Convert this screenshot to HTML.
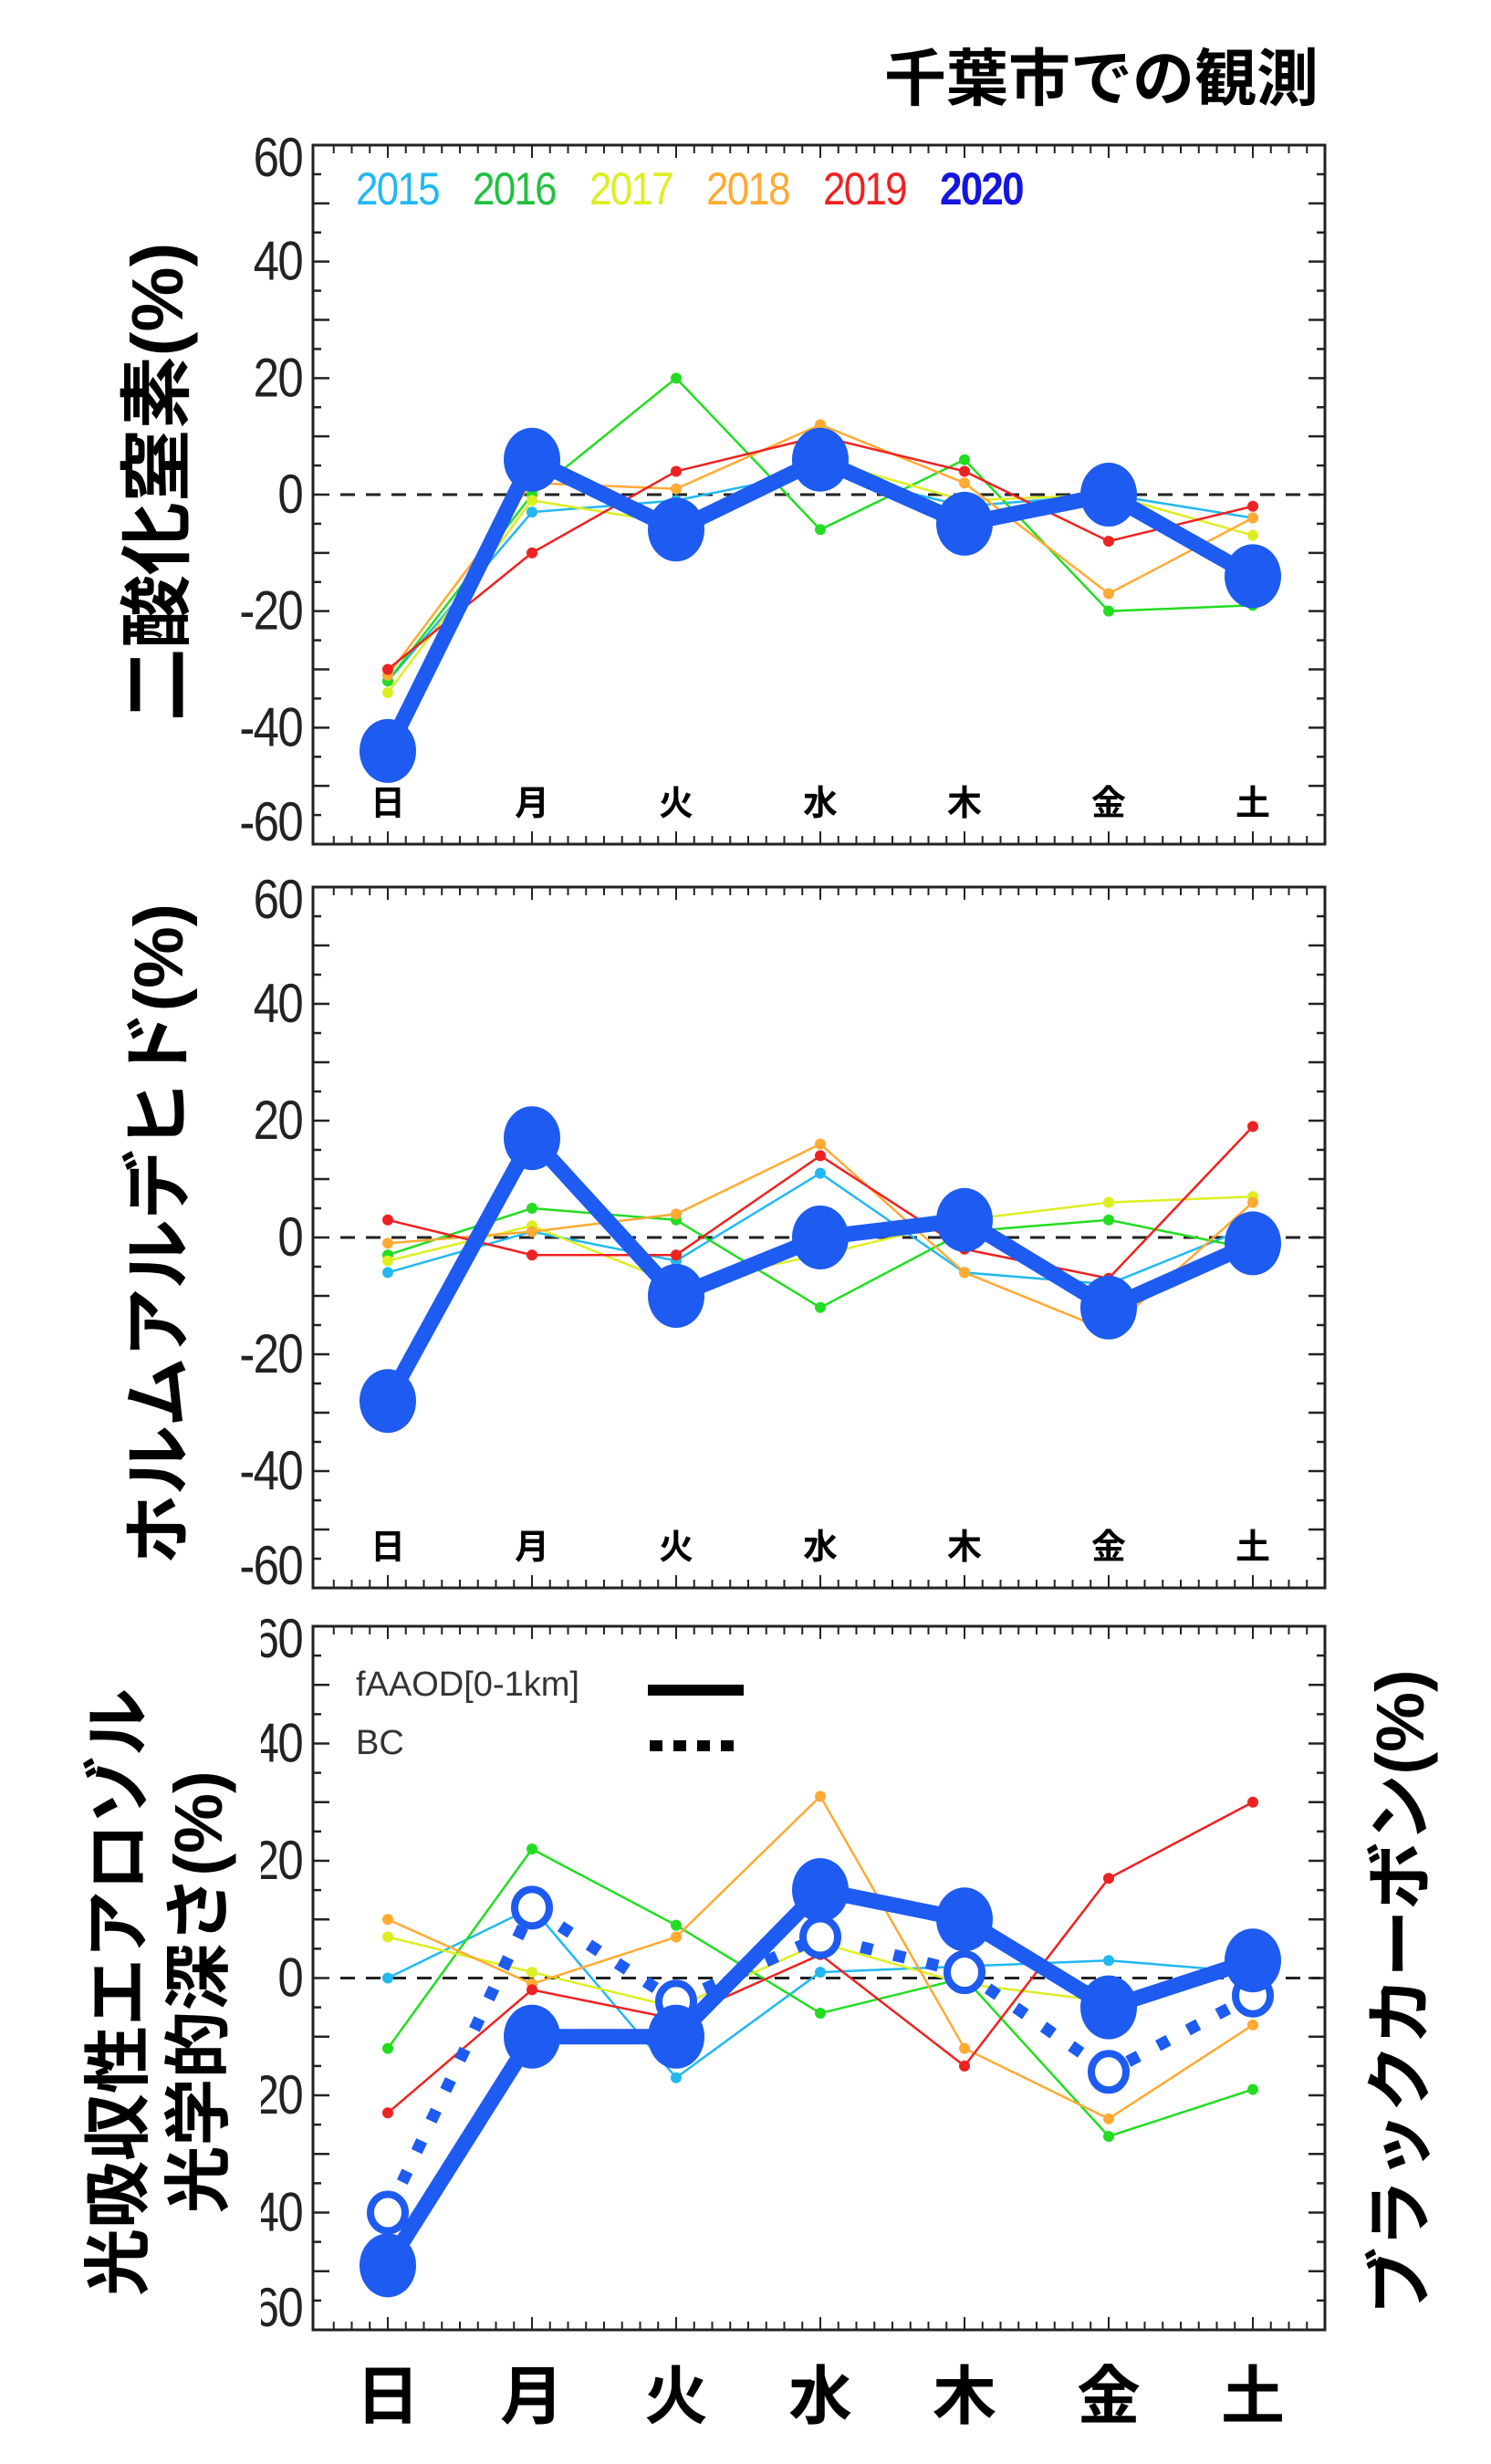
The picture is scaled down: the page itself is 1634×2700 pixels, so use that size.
<!DOCTYPE html>
<html><head><meta charset="utf-8">
<style>
html,body{margin:0;padding:0;background:#fff;}
svg{display:block;}
text{font-family:"Liberation Sans","Noto Sans CJK JP",sans-serif;}
</style></head>
<body>
<svg id="chart" width="1634" height="2700" viewBox="0 0 1634 2700" xmlns="http://www.w3.org/2000/svg">
<defs><clipPath id="clip3"><rect x="286" y="1700" width="60" height="950"/></clipPath></defs>
<text x="1445" y="110" text-anchor="end" font-size="68" font-weight="bold">千葉市での観測</text>
<g id="panels"></g>
</svg>
<script>
const days = ["日","月","火","水","木","金","土"];
const yTicks = [60,40,20,0,-20,-40,-60];
const years = ["2015","2016","2017","2018","2019","2020"];
const yearColors = ["#22b8f0","#22c040","#ddee22","#ffaa33","#ee2222","#1515e0"];
// Panel 1: NO2
const no2_2015 = [-32,-3,-1,4,-2,0,-4];
const no2_2016 = [-32,0,20,-6,6,-20,-19];
const no2_2017 = [-34,-1,-5,6,-1,0,-7];
const no2_2018 = [-31,2,1,12,2,-17,-4];
const no2_2019 = [-30,-10,4,10,4,-8,-2];
const no2_2020 = [-44,6,-6,6,-5,0,-14];
// Panel 2: HCHO
const hcho_2015 = [-6,1,-4,11,-6,-8,2];
const hcho_2016 = [-3,5,3,-12,1,3,-2];
const hcho_2017 = [-4,2,-8,-3,3,6,7];
const hcho_2018 = [-1,1,4,16,-6,-16,6];
const hcho_2019 = [3,-3,-3,14,-2,-7,19];
const hcho_2020 = [-28,17,-10,0,3,-12,-1];
// Panel 3: fAAOD
const aod_2015 = [0,12,-17,1,2,3,1];
const aod_2016 = [-12,22,9,-6,0,-27,-19];
const aod_2017 = [7,1,-5,6,-1,-4,2];
const aod_2018 = [10,-1,7,31,-12,-24,-8];
const aod_2019 = [-23,-2,-7,4,-15,17,30];
const aod_2020 = [-49,-10,-10,15,10,-5,3];
const bc_2020 = [-40,12,-4,7,1,-16,-3];

const NS="http://www.w3.org/2000/svg";
const root=document.getElementById('panels');
function mk(tag,attrs,parent){const e=document.createElementNS(NS,tag);for(const k in attrs)e.setAttribute(k,attrs[k]);(parent||root).appendChild(e);return e;}
const X0=343,X1=1452;
function xPos(i){return 425+i*158;}
const thinColors=["#22b8f0","#22dd22","#ddee22","#ffaa33","#ee2222"];
const blue="#1e5bf0";

function panel(id,top,bottom,thin,bold,opts){
  const g=mk('g',{});
  
  
  const yPos=v=>top+(60-v)/120*(bottom-top);
  const fr=mk('rect',{x:X0,y:top,width:X1-X0,height:bottom-top,fill:'none',stroke:'#222','stroke-width':3},g);
  
  
  for(let v=-60;v<=60;v+=5){
    const L=(v%10===0)?18:9,y=yPos(v);
    mk('line',{x1:X0,x2:X0+L,y1:y,y2:y,stroke:'#222','stroke-width':2.5},g);
    mk('line',{x1:X1,x2:X1-L,y1:y,y2:y,stroke:'#222','stroke-width':2.5},g);
  }
  for(let k=-3;k<=51;k++){
    const x=xPos(0)+k*158/8; if(x<X0+3||x>X1-3)continue;
    const L=(k%8===0)?14:9;
    mk('line',{x1:x,x2:x,y1:bottom,y2:bottom-L,stroke:'#222','stroke-width':2},g);
    mk('line',{x1:x,x2:x,y1:top,y2:top+L,stroke:'#222','stroke-width':2},g);
  }
  const lg=mk('g',opts.clip?{'clip-path':'url(#clip3)'}:{},g);
  yTicks.forEach(v=>{
    const yc=Math.min(Math.max(yPos(v),top+14),bottom-24);
    const y=yc+20;
    const t=mk('text',{x:331,y:y,'text-anchor':'end','font-size':60,fill:'#222',transform:'translate(331 0) scale(0.85 1) translate(-331 0)'},lg);
    t.setAttribute('letter-spacing','-2');
    t.textContent=String(v);
    
    
  });
  const z=mk('line',{x1:X0+30,x2:X1-5,y1:yPos(0),y2:yPos(0),stroke:'#222','stroke-width':3,'stroke-dasharray':'16 12'},g);
  
  
  thin.forEach((arr,si)=>{
    const pts=arr.map((v,i)=>xPos(i)+','+yPos(v)).join(' ');
    const pl=mk('polyline',{points:pts,fill:'none',stroke:thinColors[si],'stroke-width':2.5},g);
    
    
    arr.forEach((v,i)=>{
      const c=mk('circle',{cx:xPos(i),cy:yPos(v),r:6,fill:thinColors[si]},g);
      
      
    });
  });
  if(opts.bc){
    const pts=opts.bc.map((v,i)=>xPos(i)+','+yPos(v)).join(' ');
    const pl=mk('polyline',{points:pts,fill:'none',stroke:blue,'stroke-width':13,'stroke-dasharray':'13 24'},g);
    
    
    opts.bc.forEach((v,i)=>{
      const c=mk('ellipse',{cx:xPos(i),cy:yPos(v),rx:19,ry:20,fill:'#fff',stroke:blue,'stroke-width':8},g);
      
      
    });
  }
  const pts=bold.map((v,i)=>xPos(i)+','+yPos(v)).join(' ');
  const pl=mk('polyline',{points:pts,fill:'none',stroke:blue,'stroke-width':17,'stroke-linejoin':'round'},g);
  
  
  bold.forEach((v,i)=>{
    const c=mk('ellipse',{cx:xPos(i),cy:yPos(v),rx:31,ry:35,fill:blue},g);
    
    
  });
  days.forEach((d,i)=>{
    const t=mk('text',opts.bigDays?{x:xPos(i),y:2650,'text-anchor':'middle','font-size':70,'font-weight':'bold'}:{x:xPos(i),y:bottom-32,'text-anchor':'middle','font-size':38,'font-weight':'bold'},opts.bigDays?root:g);
    t.textContent=d;
    
    
  });
}
panel('no2',159,925,[no2_2015,no2_2016,no2_2017,no2_2018,no2_2019],no2_2020,{});
panel('hcho',972,1740,[hcho_2015,hcho_2016,hcho_2017,hcho_2018,hcho_2019],hcho_2020,{});
panel('aerosol',1782,2553,[aod_2015,aod_2016,aod_2017,aod_2018,aod_2019],aod_2020,{clip:true,bc:bc_2020,bigDays:true});

const legX=[390,518,646,774,902,1030];
years.forEach((y,i)=>{
  const t=mk('text',{x:legX[i],y:224,'font-size':50,fill:yearColors[i],'font-weight':i===5?'bold':'normal',transform:'translate('+legX[i]+' 0) scale(0.88 1) translate('+(-legX[i])+' 0)'});
  t.setAttribute('letter-spacing','-2');
  t.textContent=y;
  
  
});
let t=mk('text',{x:390,y:1858,'font-size':38,fill:'#333'});t.textContent='fAAOD[0-1km]';


let l=mk('line',{x1:710,x2:815,y1:1852,y2:1852,stroke:'#000','stroke-width':12});


t=mk('text',{x:390,y:1922,'font-size':38,fill:'#333'});t.textContent='BC';


l=mk('line',{x1:712,x2:815,y1:1913,y2:1913,stroke:'#000','stroke-width':12,'stroke-dasharray':'14 12'});



function vtitle(txt,x,y,size,name){
  const e=mk('text',{x:x,y:y,'text-anchor':'middle','font-size':size,'font-weight':'bold',transform:'rotate(-90 '+x+' '+y+')'});
  e.textContent=txt;
  
  
}
vtitle('二酸化窒素(%)',200,528,80,'no2-y-axis-title');
vtitle('ホルムアルデヒド(%)',200,1352,76,'hcho-y-axis-title');
vtitle('光吸収性エアロゾル',155,2183,74,'aerosol-y-axis-title-line1');
vtitle('光学的深さ(%)',243,2183,74,'aerosol-y-axis-title-line2');
vtitle('ブラックカーボン(%)',1560,2183,74,'bc-right-axis-title');
</script>
</body></html>
